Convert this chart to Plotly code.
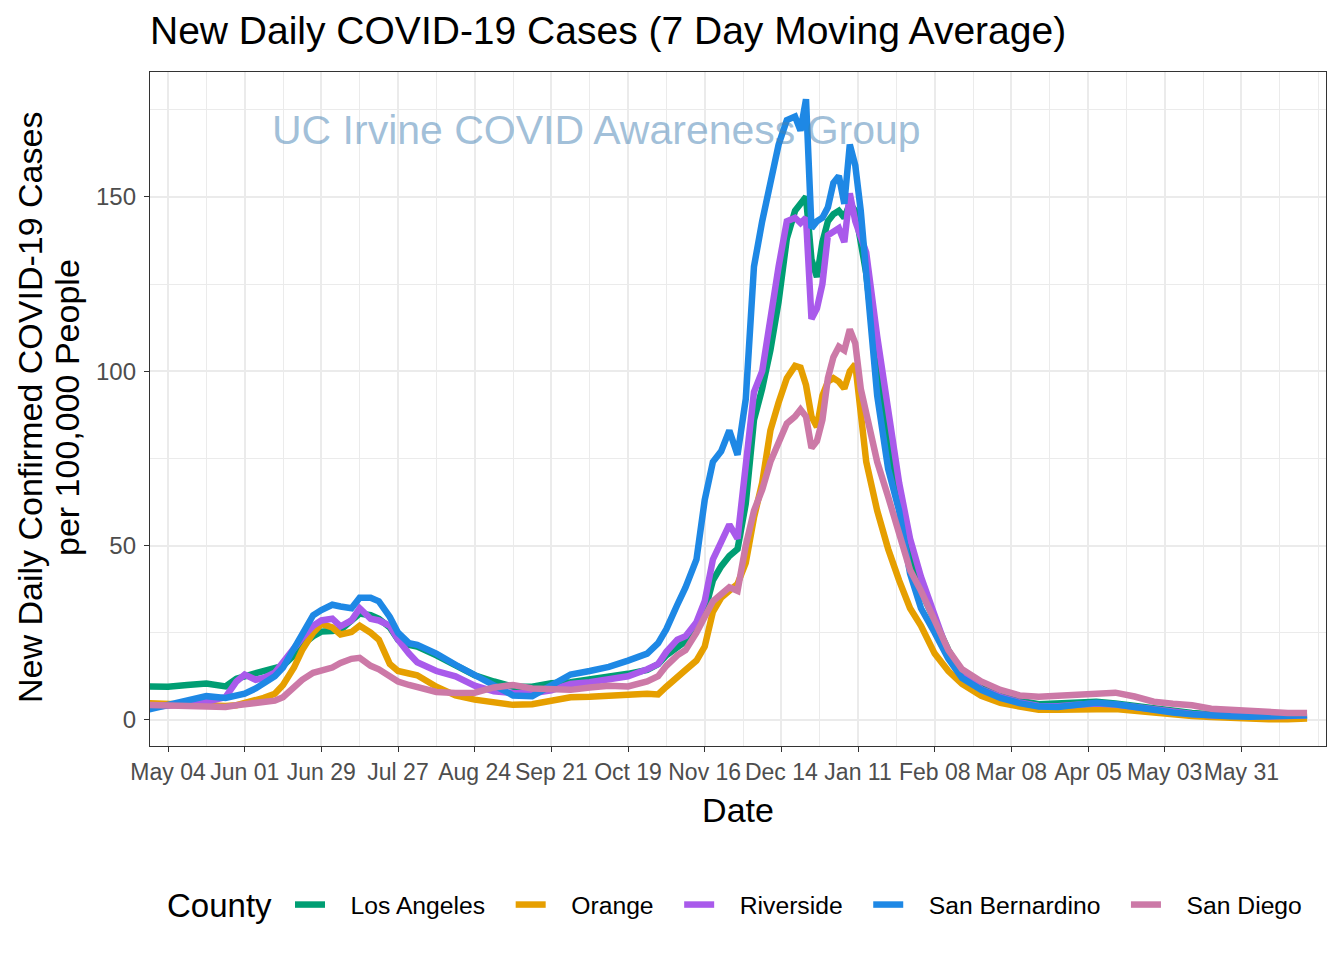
import plotly.graph_objects as go

dates = [
    "2020-04-27", "2020-05-04", "2020-05-11", "2020-05-18", "2020-05-25", "2020-05-29",
    "2020-06-01", "2020-06-05", "2020-06-08", "2020-06-12", "2020-06-15", "2020-06-19",
    "2020-06-22", "2020-06-26", "2020-06-29", "2020-07-03", "2020-07-06", "2020-07-10",
    "2020-07-13", "2020-07-17", "2020-07-20", "2020-07-24", "2020-07-27", "2020-07-31",
    "2020-08-03", "2020-08-10", "2020-08-17", "2020-08-24", "2020-08-31", "2020-09-07",
    "2020-09-14", "2020-09-21", "2020-09-28", "2020-10-05", "2020-10-12", "2020-10-19",
    "2020-10-26", "2020-10-30", "2020-11-02", "2020-11-06", "2020-11-09", "2020-11-13",
    "2020-11-16", "2020-11-19", "2020-11-22", "2020-11-25", "2020-11-28", "2020-12-01",
    "2020-12-04", "2020-12-07", "2020-12-10", "2020-12-13", "2020-12-16", "2020-12-19",
    "2020-12-21", "2020-12-23", "2020-12-25", "2020-12-27", "2020-12-29", "2020-12-31",
    "2021-01-02", "2021-01-04", "2021-01-06", "2021-01-08", "2021-01-10", "2021-01-12",
    "2021-01-14", "2021-01-18", "2021-01-22", "2021-01-26", "2021-01-30", "2021-02-03",
    "2021-02-08", "2021-02-13", "2021-02-18", "2021-02-25", "2021-03-04", "2021-03-11",
    "2021-03-18", "2021-03-25", "2021-04-01", "2021-04-08", "2021-04-15", "2021-04-22",
    "2021-04-29", "2021-05-06", "2021-05-13", "2021-05-20", "2021-05-27", "2021-06-03",
    "2021-06-10", "2021-06-17", "2021-06-24",
]

los_angeles = [
    9.6, 9.5, 10.0, 10.4, 9.6, 11.8, 12.5, 13.3, 13.8, 14.5, 15.5, 18.5,
    21.5, 24.0, 25.3, 25.5, 25.8, 28.5, 30.5, 30.0, 29.0, 26.5, 23.0, 21.5,
    21.0, 18.5, 15.5, 12.8, 11.0, 9.5, 9.5, 10.5, 10.8, 11.5, 12.3, 13.2,
    14.3, 16.0, 18.5, 21.0, 22.5, 26.0, 31.0, 40.0, 44.0, 47.0, 49.0, 62.0,
    86.0, 95.0, 106.0, 120.0, 138.0, 146.0, 148.0, 150.0, 132.0, 127.0, 137.0, 143.0,
    145.0, 146.0, 144.0, 148.0, 146.0, 138.0, 128.0, 100.0, 80.0, 64.0, 48.0, 37.0,
    28.0, 20.0, 13.5, 9.3, 7.0, 5.5, 4.5, 4.6, 4.9, 5.2, 4.7, 4.0,
    3.2, 2.5, 2.0, 1.6, 1.3, 1.1, 1.0, 1.0, 1.1,
]

orange = [
    4.8, 4.5, 4.3, 4.0, 4.0, 4.2, 4.8, 5.5, 6.3, 7.5, 10.0, 15.0,
    20.0, 25.0, 27.5, 26.5, 24.5, 25.2, 27.0, 25.0, 23.0, 16.0, 14.0, 13.3,
    12.8, 9.5, 7.0, 5.8, 5.2, 4.3, 4.5, 5.5, 6.5, 6.6, 6.7, 7.2,
    7.5, 7.3, 9.5, 12.5, 14.3, 17.0, 21.0, 31.0, 35.0, 37.0, 39.0, 45.0,
    58.0, 68.0, 83.0, 91.0, 98.0, 101.5, 101.0, 96.0, 87.0, 84.0, 93.0, 97.0,
    98.0, 97.0, 95.0, 100.0, 102.0, 88.0, 74.0, 60.0, 49.0, 40.0, 32.0, 27.0,
    19.0, 14.0, 10.3, 6.9, 4.9, 3.8, 2.9, 2.9, 3.0, 3.2, 3.1, 2.6,
    2.0, 1.5, 1.1, 0.8, 0.5, 0.3, 0.2, 0.2, 0.4,
]

riverside = [
    3.7, 4.0, 4.5, 5.2, 6.5, 11.0, 13.0, 11.5, 12.0, 13.5, 16.5, 21.0,
    23.5, 27.0, 28.5, 29.0, 26.8, 28.5, 32.0, 29.0, 28.5, 27.0, 23.0, 19.0,
    16.5, 14.0, 12.5, 9.8, 8.2, 7.7, 7.6, 8.5, 10.3, 10.8, 11.5, 12.5,
    14.5, 16.0, 19.5, 23.0, 24.0, 28.0, 34.0, 46.0, 51.0, 56.0, 52.0, 72.0,
    94.0, 100.0, 116.0, 130.0, 143.0, 144.0, 142.5, 144.0, 115.0, 118.0, 125.0, 139.0,
    140.0, 141.0, 137.0, 151.0, 143.0, 138.0, 134.0, 110.0, 88.0, 68.0, 52.0, 41.0,
    30.0, 19.0, 13.0, 8.8, 6.6, 5.0, 4.0, 3.9, 4.3, 4.7, 4.4, 3.7,
    2.8, 2.2, 1.7, 1.3, 1.1, 1.0, 1.0, 1.1, 1.3,
]

san_bernardino = [
    3.0, 4.2, 5.5, 6.8, 6.3, 6.8, 7.5, 9.0, 10.5, 12.5, 15.0, 20.5,
    25.0, 30.0, 31.5, 33.0, 32.5, 32.0, 35.0, 35.0, 34.0, 29.5, 25.0, 22.0,
    21.5, 19.0, 15.8, 13.0, 10.0, 7.0, 6.8, 10.0, 13.0, 14.0, 15.2, 17.0,
    19.0, 22.0, 26.0, 33.0, 38.0, 46.0, 63.0, 74.0, 77.0, 83.0, 76.0, 92.0,
    130.0, 143.0, 155.0, 165.0, 172.0, 173.0, 169.0, 178.0, 141.0, 143.0, 144.0, 147.0,
    154.0, 156.0, 148.0, 165.0, 159.0, 146.0, 128.0, 93.0, 72.0, 60.0, 42.0, 32.0,
    25.0, 17.5, 12.0, 8.6, 6.3, 4.8, 3.8, 3.7, 4.3, 4.9, 4.5, 3.6,
    2.8, 2.1, 1.6, 1.1, 1.0, 0.9, 0.9, 1.0, 1.3,
]

san_diego = [
    4.3, 4.2, 4.0, 3.8, 3.7, 4.2, 4.5, 4.8, 5.0, 5.5, 6.5, 9.5,
    11.5, 13.5, 14.0, 15.0, 16.3, 17.5, 17.8, 15.5, 14.5, 12.5, 11.0, 10.0,
    9.3, 8.0, 7.7, 7.8, 9.3, 10.0, 9.0, 8.6, 8.6, 9.3, 9.8, 9.6,
    11.0, 12.5, 15.5, 18.5, 20.0, 25.0, 30.0, 34.0, 36.0, 38.0, 37.0, 50.0,
    60.0, 66.0, 74.0, 80.0, 85.0, 87.0, 89.0, 87.0, 78.0, 80.0, 86.0, 98.0,
    104.0, 107.0, 106.0, 112.0, 108.0, 95.0, 88.0, 74.0, 64.0, 53.0, 43.0, 37.0,
    29.0, 20.0, 14.5, 11.0, 8.6, 7.0, 6.6, 7.0, 7.4, 7.7, 7.8, 6.7,
    5.2, 4.6, 4.2, 3.2, 2.8, 2.4, 2.2, 2.0, 2.0,
]

counties = ["Los Angeles", "Orange", "Riverside", "San Bernardino", "San Diego"]
series = [los_angeles, orange, riverside, san_bernardino, san_diego]
colors = ["#009E73", "#E69F00", "#A95AEB", "#1E88E5", "#CC79A7"]

tick_dates = [
    "2020-05-04", "2020-06-01", "2020-06-29", "2020-07-27", "2020-08-24",
    "2020-09-21", "2020-10-19", "2020-11-16", "2020-12-14", "2021-01-11",
    "2021-02-08", "2021-03-08", "2021-04-05", "2021-05-03", "2021-05-31",
]
tick_labels = [
    "May 04", "Jun 01", "Jun 29", "Jul 27", "Aug 24", "Sep 21", "Oct 19",
    "Nov 16", "Dec 14", "Jan 11", "Feb 08", "Mar 08", "Apr 05", "May 03", "May 31",
]
minor_dates = [
    "2020-05-18", "2020-06-15", "2020-07-13", "2020-08-10", "2020-09-07",
    "2020-10-05", "2020-11-02", "2020-11-30", "2020-12-28", "2021-01-25",
    "2021-02-22", "2021-03-22", "2021-04-19", "2021-05-17", "2021-06-14", "2021-06-28",
]
y_ticks = [0, 50, 100, 150]
y_minor = [25, 75, 125, 175]

FONT = "Liberation Sans, Arial, Helvetica, sans-serif"
NB = "\u00a0"

# plot panel in pixels
PL, PR, PT, PB = 150, 1326, 72, 746
PW, PH = PR - PL, PB - PT


def px_x(x):
    return (x - PL) / PW


def px_y(y):
    return (PB - y) / PH


fig = go.Figure()
for name, vals, col in zip(counties, series, colors):
    fig.add_trace(go.Scatter(
        x=dates, y=vals, mode="lines", name=NB * 3 + name + NB * 3,
        line=dict(color=col, width=6.5),
    ))

grid = "#EBEBEB"
fig.update_layout(
    width=1344, height=960,
    paper_bgcolor="white", plot_bgcolor="white",
    margin=dict(l=PL, r=1344 - PR, t=PT, b=960 - PB),
    font=dict(family=FONT, color="black"),
    title=dict(
        text="New Daily COVID-19 Cases (7 Day Moving Average)",
        x=0, xref="paper", xanchor="left",
        y=1 - 30 / 960, yref="container", yanchor="middle",
        font=dict(size=39, color="black", family=FONT),
    ),
    xaxis=dict(
        type="date",
        range=["2020-04-27 10:00", "2021-06-30 22:00"],
        tickmode="array", tickvals=tick_dates, ticktext=tick_labels,
        tickangle=0,
        ticks="outside", ticklen=5, tickwidth=1.3, tickcolor="#333333",
        tickfont=dict(size=23, color="#4D4D4D"),
        showgrid=True, gridcolor=grid, gridwidth=1.8,
        minor=dict(tickmode="array", tickvals=minor_dates, showgrid=True,
                   gridcolor=grid, gridwidth=0.9, ticks=""),
        showline=True, mirror=True, linecolor="#333333", linewidth=1.3,
        zeroline=False, automargin=False,
        title=dict(text="Date", font=dict(size=34, color="black"), standoff=14),
    ),
    yaxis=dict(
        range=[-7.5, 185.8],
        tickmode="array", tickvals=y_ticks,
        ticks="outside", ticklen=5, tickwidth=1.3, tickcolor="#333333",
        tickfont=dict(size=24, color="#4D4D4D"),
        ticklabelstandoff=3,
        showgrid=True, gridcolor=grid, gridwidth=1.8,
        minor=dict(tickmode="array", tickvals=y_minor, showgrid=True,
                   gridcolor=grid, gridwidth=0.9, ticks=""),
        showline=True, mirror=True, linecolor="#333333", linewidth=1.3,
        zeroline=False, automargin=False,
    ),
    legend=dict(
        orientation="h", x=px_x(1328), xanchor="right", y=px_y(905), yanchor="middle",
        font=dict(size=24.7, color="black"),
        traceorder="normal",
        bgcolor="rgba(0,0,0,0)",
    ),
    showlegend=True,
)

# y-axis title, two lines
fig.add_annotation(
    text="New Daily Confirmed COVID-19 Cases", textangle=-90,
    xref="paper", yref="paper", x=px_x(30), y=px_y(408),
    xanchor="center", yanchor="middle", showarrow=False,
    font=dict(size=34, color="black", family=FONT),
)
fig.add_annotation(
    text="per 100,000 People", textangle=-90,
    xref="paper", yref="paper", x=px_x(67), y=px_y(408),
    xanchor="center", yanchor="middle", showarrow=False,
    font=dict(size=34, color="black", family=FONT),
)
# legend title
fig.add_annotation(
    text="County",
    xref="paper", yref="paper", x=px_x(165), y=px_y(905),
    xanchor="left", yanchor="middle", showarrow=False,
    font=dict(size=33, color="black", family=FONT),
)
# watermark
fig.add_annotation(
    text="UC Irvine COVID Awareness Group",
    xref="paper", yref="paper",
    x=px_x(270), y=px_y(130),
    xanchor="left", yanchor="middle", showarrow=False,
    font=dict(size=41, color="rgba(70,130,180,0.5)", family=FONT),
)

fig.write_html(
    "out.html",
    config={"displayModeBar": False},
    post_script="document.body.style.margin='0px';",
)
